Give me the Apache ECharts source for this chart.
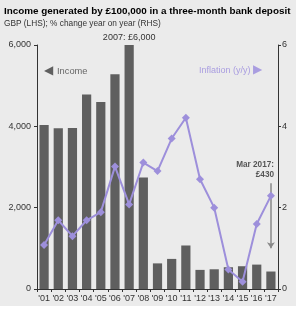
<!DOCTYPE html>
<html><head><meta charset="utf-8">
<script src="https://cdn.jsdelivr.net/npm/echarts@6/dist/echarts.min.js"></script>
<style>
html,body{margin:0;padding:0;background:#fff;}
#c{width:296px;height:306px;background:#ebebeb;}
</style></head>
<body><div id="c"></div>
<script>
const categories = ["'01","'02","'03","'04","'05","'06","'07","'08","'09","'10","'11","'12","'13","'14","'15","'16","'17"];
const income = [4030, 3950, 3960, 4780, 4600, 5280, 6000, 2740, 630, 740, 1070, 470, 485, 535, 560, 600, 430];
const inflation = [1.08, 1.69, 1.30, 1.69, 1.89, 3.01, 2.08, 3.11, 2.90, 3.70, 4.21, 2.70, 2.00, 0.48, 0.18, 1.60, 2.29];
const leftTicks = [0, 2000, 4000, 6000];
const rightTicks = [0, 2, 4, 6];

const chart = echarts.init(document.getElementById('c'), null, {renderer:'canvas'});
const F = 'Liberation Sans, Arial, sans-serif';
chart.setOption({
  backgroundColor: '#ebebeb',
  animation: false,
  textStyle: {fontFamily: F},
  grid: {left: 37, right: 18, top: 45, bottom: 17, containLabel: false},
  graphic: [
    {type:'text', left: 4, top: 6, style:{text:'Income generated by £100,000 in a three-month bank deposit', font:'bold 9.9px '+F, fill:'#000'}},
    {type:'text', left: 4, top: 20, style:{text:'GBP (LHS); % change year on year (RHS)', font:'8.3px '+F, fill:'#333'}},
    {type:'text', left: 44, top: 65, style:{text:'◀', font:'12px DejaVu Sans, sans-serif', fill:'#5f5f5f'}},
    {type:'text', left: 57, top: 67, style:{text:'Income', font:'9.3px '+F, fill:'#666'}},
    {type:'text', left: 199, top: 66, style:{text:'Inflation (y/y)', font:'9px '+F, fill:'#a99de0'}},
    {type:'text', left: 253, top: 64, style:{text:'▶', font:'12px DejaVu Sans, sans-serif', fill:'#a99de0'}},
    {type:'text', right: 22, top: 161, style:{text:'Mar 2017:', font:'bold 8.2px '+F, fill:'#555'}},
    {type:'text', right: 22, top: 171, style:{text:'£430', font:'bold 8.2px '+F, fill:'#555'}}
  ],
  xAxis: {
    type: 'category', data: categories,
    axisLine: {lineStyle: {color: '#333'}},
    axisTick: {show: true, alignWithLabel: false, length: 3, lineStyle:{color:'#333'}},
    axisLabel: {fontSize: 9, color: '#333', margin: 5, interval: 0, fontFamily: F}
  },
  yAxis: [
    {type:'value', min:0, max:6000, interval:2000, position:'left',
     axisLine:{show:true, lineStyle:{color:'#333'}}, axisTick:{show:true, length:3, lineStyle:{color:'#333'}},
     splitLine:{show:false},
     axisLabel:{fontSize:9, color:'#333', margin:6, fontFamily:F, formatter: v => leftTicks.includes(v) ? v.toLocaleString('en-US') : ''}},
    {type:'value', min:0, max:6, interval:2, position:'right',
     axisLine:{show:true, lineStyle:{color:'#333'}}, axisTick:{show:true, length:3, lineStyle:{color:'#333'}},
     splitLine:{show:false},
     axisLabel:{fontSize:9, color:'#333', margin:4, fontFamily:F, formatter: v => rightTicks.includes(v) ? String(v) : ''}}
  ],
  series: [
    {type:'bar', yAxisIndex:0, data: income.map((v,i)=> i===6 ? {value:v, label:{show:true, position:'top', distance:3, formatter:'2007: £6,000', fontSize:9, color:'#333', fontFamily:F}} : v),
     barCategoryGap:'35%', itemStyle:{color:'#5f5f5f'},
     markLine:{silent:true, symbol:['none','arrow'], symbolSize:[6,6],
       lineStyle:{color:'#888', type:'solid', width:1.5}, label:{show:false},
       data:[[{coord:["'17", 2600]}, {coord:["'17", 1000], symbol:'arrow', itemStyle:{color:'#555'}}]]}},
    {type:'line', yAxisIndex:1, data: inflation, symbol:'diamond', symbolSize:8,
     lineStyle:{color:'#9d8fdb', width:2}, itemStyle:{color:'#9d8fdb'}, z:5}
  ]
});
</script></body></html>
